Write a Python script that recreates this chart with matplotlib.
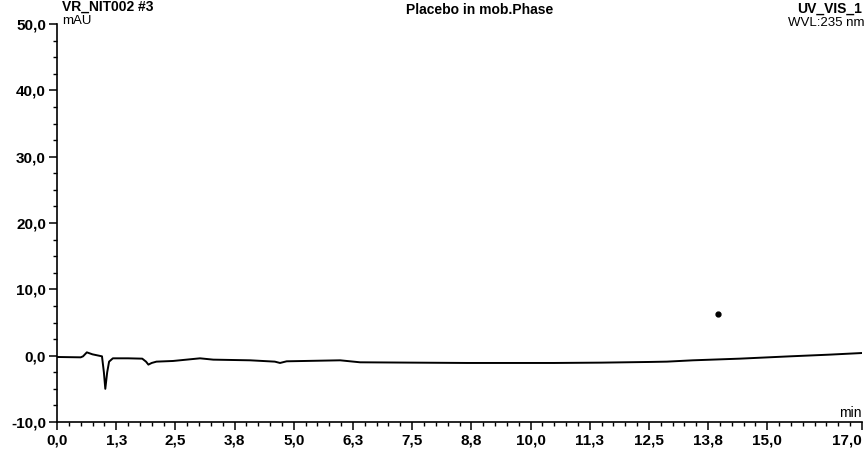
import matplotlib
matplotlib.use("Agg")
import matplotlib.pyplot as plt
from matplotlib.ticker import FixedLocator, MultipleLocator

# Chromatogram trace (retention time in min, signal in mAU)
time_min = [0.0, 0.5, 0.55, 0.63, 0.75, 0.95, 0.99, 1.02, 1.06, 1.1, 1.18, 1.5, 1.8,
            1.88, 1.93, 2.0, 2.1, 2.45, 3.02, 3.3, 4.08, 4.6, 4.71, 4.85, 5.98,
            6.4, 7.5, 8.66, 9.5, 10.5, 11.5, 12.5, 12.88, 13.43, 14.42, 15.48, 16.3, 17.0]
signal_mau = [-0.2, -0.25, -0.1, 0.5, 0.2, -0.1, -2.5, -5.0, -2.5, -0.9, -0.4, -0.4, -0.45,
              -0.9, -1.35, -1.1, -0.9, -0.8, -0.4, -0.6, -0.7, -0.9, -1.1, -0.85, -0.7,
              -1.0, -1.05, -1.1, -1.1, -1.1, -1.05, -0.95, -0.9, -0.7, -0.45, -0.1, 0.15, 0.4]

# Stray dot
dot_t = [13.96]
dot_y = [6.3]

x_tick_vals = [0.0, 1.25, 2.5, 3.75, 5.0, 6.25, 7.5, 8.75, 10.0, 11.25, 12.5, 13.75, 15.0, 17.0]
x_tick_labels = ["0,0", "1,3", "2,5", "3,8", "5,0", "6,3", "7,5", "8,8", "10,0",
                 "11,3", "12,5", "13,8", "15,0", "17,0"]
y_tick_vals = [-10, 0, 10, 20, 30, 40, 50]
y_tick_labels = ["-10,0", "0,0", "10,0", "20,0", "30,0", "40,0", "50,0"]

plt.rcParams['font.family'] = ['Liberation Sans', 'DejaVu Sans']

fig = plt.figure(figsize=(8.65, 4.58), dpi=100)
ax = fig.add_axes([57/865, 1 - 422/458, (862 - 57)/865, (422 - 24)/458])

ax.plot(time_min, signal_mau, color='black', lw=1.4, solid_joinstyle='round')
ax.plot(dot_t, dot_y, 'o', color='black', ms=3.5)

ax.set_xlim(0, 17)
ax.set_ylim(-10, 50)
for s in ['top', 'right']:
    ax.spines[s].set_visible(False)
for s in ['left', 'bottom']:
    ax.spines[s].set_linewidth(1.2)

ax.xaxis.set_major_locator(FixedLocator(x_tick_vals))
ax.set_xticklabels(x_tick_labels)
ax.xaxis.set_minor_locator(MultipleLocator(0.25))
ax.yaxis.set_major_locator(FixedLocator(y_tick_vals))
ax.set_yticklabels(y_tick_labels)
ax.yaxis.set_minor_locator(MultipleLocator(2.5))

ax.tick_params(which='major', length=6, width=1.1, labelsize=11, pad=2)
ax.tick_params(which='minor', length=3, width=1.0)
for lab in ax.get_xticklabels() + ax.get_yticklabels():
    lab.set_fontweight('bold')
ax.get_xticklabels()[-1].set_horizontalalignment('right')

fig.text(62/865, 1 - 0/458, "VR_NIT002 #3", ha='left', va='top', fontsize=10, fontweight='bold')
fig.text(62/865, 1 - 15/458, "mAU", ha='left', va='top', fontsize=9.5)
fig.text(480/865, 1 - 3/458, "Placebo in mob.Phase", ha='center', va='top', fontsize=10, fontweight='bold')
fig.text(862/865, 1 - 2/458, "UV_VIS_1", ha='right', va='top', fontsize=10, fontweight='bold')
fig.text(864/865, 1 - 17/458, "WVL:235 nm", ha='right', va='top', fontsize=9.5)
fig.text(862/865, 1 - 420/458, "min", ha='right', va='bottom', fontsize=10)

fig.savefig("out.png", dpi=100)
